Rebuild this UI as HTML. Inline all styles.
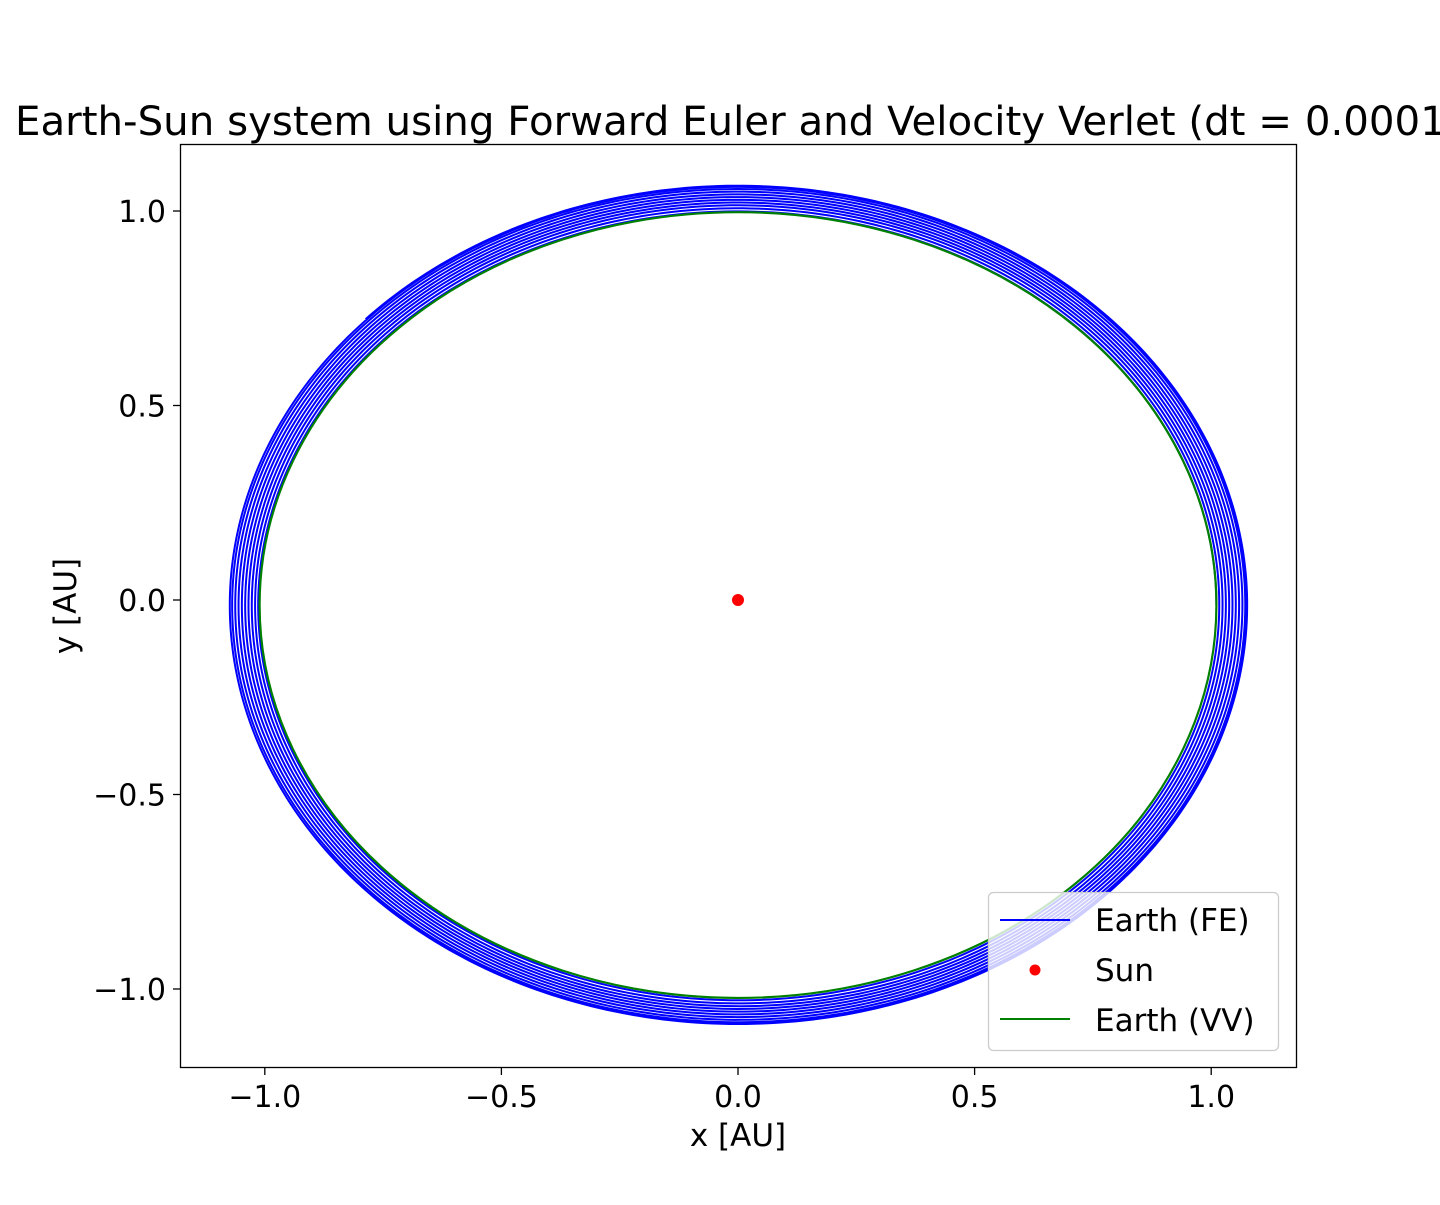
<!DOCTYPE html>
<html><head><meta charset="utf-8"><style>
body{margin:0;background:#fff;font-family:"Liberation Sans","DejaVu Sans",sans-serif;overflow:hidden}
svg text{font-family:"DejaVu Sans","Liberation Sans",sans-serif;fill:#000}
</style></head><body>
<svg id="chart" width="1440" height="1200" viewBox="0 0 1440 1200">
<text x="15" y="135" font-size="40.3">Earth-Sun system using Forward Euler and Velocity Verlet (dt = 0.0001)</text>
<defs><clipPath id="clip"><rect x="180" y="144" width="1117" height="924"/></clipPath></defs>
<g id="plot" clip-path="url(#clip)"></g>
<rect x="180.5" y="144.5" width="1116" height="923" fill="none" stroke="#000" stroke-width="1.3"/>
<g id="ticks"></g>
<text x="738" y="1146" font-size="31" text-anchor="middle">x [AU]</text>
<text transform="translate(76,606) rotate(-90)" font-size="31" text-anchor="middle">y [AU]</text>
<g>
<rect x="988.5" y="892.5" width="290" height="158" rx="5" fill="#fff" fill-opacity="0.8" stroke="#ccc" stroke-width="1.3"/>
<line x1="1000" y1="920" x2="1070" y2="920" stroke="#0000ff" stroke-width="2"/>
<text x="1095" y="931" font-size="31">Earth (FE)</text>
<circle cx="1035" cy="970" r="5.5" fill="#ff0000"/>
<text x="1095" y="981" font-size="31">Sun</text>
<line x1="1000" y1="1019" x2="1070" y2="1019" stroke="#008000" stroke-width="2"/>
<text x="1095" y="1031" font-size="31">Earth (VV)</text>
</g>
</svg>
<script>
const xTicks=[-1.0,-0.5,0.0,0.5,1.0];
const yTicks=[1.0,0.5,0.0,-0.5,-1.0];
const xTickLabels=["−1.0","−0.5","0.0","0.5","1.0"];
const yTickLabels=["1.0","0.5","0.0","−0.5","−1.0"];
// FE orbit: semi-axes of each successive loop (AU)
const feLoopRx=[1.011,1.017,1.024,1.031,1.038,1.045,1.052,1.059,1.066,1.072,1.076];
const feLoopRy=[1.010,1.018,1.026,1.033,1.040,1.047,1.054,1.061,1.068,1.074,1.078];
const feCenterY=-0.013;
const feEndAngleDeg=137;
// VV orbit
const vvRx=[1.011], vvRy=[1.010], vvCenterY=[-0.013];
const sunPos=[[0,0]];
const X=v=>738+v*473.2, Y=v=>600-v*389;
const NS="http://www.w3.org/2000/svg";
const plot=document.getElementById('plot'), ticks=document.getElementById('ticks');
function mk(tag,attrs,parent){const e=document.createElementNS(NS,tag);for(const k in attrs)e.setAttribute(k,attrs[k]);parent.appendChild(e);return e;}
let d="";const n=feLoopRx.length, endA=feEndAngleDeg*Math.PI/180, total=(n-1)*2*Math.PI+endA;
for(let i=0;i<=4000;i++){const a=total*i/4000;const f=a/(2*Math.PI);const k=Math.min(Math.floor(f),n-2);const t=Math.min(f-k,1);
const rx=feLoopRx[k]+(feLoopRx[k+1]-feLoopRx[k])*t, ry=feLoopRy[k]+(feLoopRy[k+1]-feLoopRy[k])*t;
d+=(i?"L":"M")+X(rx*Math.cos(a)).toFixed(2)+","+Y(feCenterY+ry*Math.sin(a)).toFixed(2);}
const fe=mk('path',{d:d,fill:'none',stroke:'#0000ff','stroke-width':2},plot);


vvRx.forEach((rx,i)=>{const e=mk('ellipse',{cx:X(0),cy:Y(vvCenterY[i]),rx:rx*473.2,ry:vvRy[i]*389,fill:'none',stroke:'#008000','stroke-width':2.2},plot);

});
sunPos.forEach(p=>{const c=mk('circle',{cx:X(p[0]),cy:Y(p[1]),r:6,fill:'#ff0000'},plot);

});
xTicks.forEach((v,i)=>{mk('line',{x1:X(v),x2:X(v),y1:1068,y2:1075,stroke:'#000','stroke-width':1.3},ticks);
const t=mk('text',{x:X(v),y:1107,'font-size':30,'text-anchor':'middle'},ticks);t.textContent=xTickLabels[i];

});
yTicks.forEach((v,i)=>{mk('line',{x1:173,x2:180,y1:Y(v),y2:Y(v),stroke:'#000','stroke-width':1.3},ticks);
const t=mk('text',{x:166,y:Y(v)+11,'font-size':30,'text-anchor':'end'},ticks);t.textContent=yTickLabels[i];

});
</script>
</body></html>
